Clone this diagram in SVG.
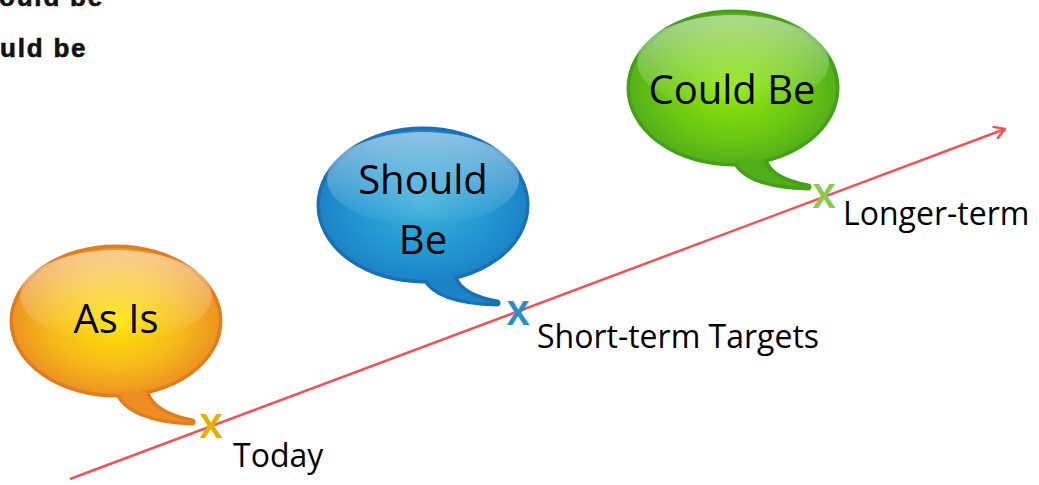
<svg xmlns="http://www.w3.org/2000/svg" width="1039" height="485" viewBox="0 0 1039 485">
<style>
.hdr{font-family:"Liberation Sans",Arial,sans-serif;font-weight:bold;font-size:26px;letter-spacing:1.8px;fill:#111;stroke:#111;stroke-width:0.6px}
.btxt{font-family:"Open Sans","Noto Sans",sans-serif;font-size:40px;fill:#000;text-anchor:middle}
.lbl{font-family:"Open Sans","Noto Sans",sans-serif;font-size:32px;fill:#000}
.mark{font-family:"Open Sans","Noto Sans",sans-serif;font-size:34px;font-weight:bold;text-anchor:middle}
.rim{stroke-width:7;stroke-linejoin:round}
</style>
<defs>
<radialGradient id="gOr" cx="0.5" cy="0.5" r="0.55">
<stop offset="0" stop-color="#ffe600"/><stop offset="0.6" stop-color="#f6b81a"/><stop offset="1" stop-color="#ea8a22"/>
</radialGradient>
<radialGradient id="gBl" cx="0.5" cy="0.5" r="0.55">
<stop offset="0" stop-color="#3ab0d8"/><stop offset="0.6" stop-color="#2296d2"/><stop offset="1" stop-color="#1a7ec4"/>
</radialGradient>
<radialGradient id="gGr" cx="0.5" cy="0.5" r="0.55">
<stop offset="0" stop-color="#8ee808"/><stop offset="0.6" stop-color="#6cc812"/><stop offset="1" stop-color="#4eaa1a"/>
</radialGradient>
<linearGradient id="gloss" x1="0" y1="0" x2="0" y2="1">
<stop offset="0" stop-color="#fff" stop-opacity="0.5"/><stop offset="1" stop-color="#fff" stop-opacity="0"/>
</linearGradient>
<marker id="arr" viewBox="0 0 14 14" refX="12" refY="7" markerWidth="14" markerHeight="14" markerUnits="userSpaceOnUse" orient="auto">
<path d="M2,1 L12,7 L2,13" fill="none" stroke="#f25252" stroke-width="2.5" stroke-linecap="round" stroke-linejoin="round"/>
</marker>
</defs>
<rect width="1039" height="485" fill="#fff"/>
<text class="hdr" x="-1" y="6">ould be</text>
<text class="hdr" x="0" y="57">uld be</text>

<g id="connectors">
<line x1="70" y1="479" x2="1005" y2="129" stroke="#f25252" stroke-width="2.5" marker-end="url(#arr)"/>
</g>

<g id="node-asis">
<g class="rim" stroke="#e27c1c" fill="#e27c1c">
<ellipse cx="116" cy="321" rx="103" ry="73"/>
<path d="M118,392 C126,410 152,421 192,422 C168,417 150,408 146,392 Z"/>
</g>
<ellipse cx="116" cy="321" rx="103" ry="73" fill="url(#gOr)"/>
<path d="M118,392 C126,410 152,421 192,422 C168,417 150,408 146,392 Z" fill="#ee8d20"/>
<ellipse cx="116" cy="296" rx="96" ry="46" fill="url(#gloss)"/>
<text class="btxt" x="116" y="333">As Is</text>
</g>

<g id="node-shouldbe">
<g class="rim" stroke="#1672b4" fill="#1672b4">
<ellipse cx="423" cy="205" rx="103" ry="75"/>
<path d="M425,277 C433,294 458,302 497,303 C475,299 458,291 454,277 Z"/>
</g>
<ellipse cx="423" cy="205" rx="103" ry="75" fill="url(#gBl)"/>
<path d="M425,277 C433,294 458,302 497,303 C475,299 458,291 454,277 Z" fill="#1c84c6"/>
<ellipse cx="423" cy="179" rx="96" ry="47" fill="url(#gloss)"/>
<text class="btxt" x="423" y="194">Should</text>
<text class="btxt" x="423" y="254">Be</text>
</g>

<g id="node-couldbe">
<g class="rim" stroke="#43a017" fill="#43a017">
<ellipse cx="733" cy="88" rx="103" ry="75"/>
<path d="M735,160 C743,177 768,186 808,187 C786,183 768,175 764,160 Z"/>
</g>
<ellipse cx="733" cy="88" rx="103" ry="75" fill="url(#gGr)"/>
<path d="M735,160 C743,177 768,186 808,187 C786,183 768,175 764,160 Z" fill="#52ad1a"/>
<ellipse cx="733" cy="62" rx="96" ry="47" fill="url(#gloss)"/>
<text class="btxt" x="732" y="104">Could Be</text>
</g>

<g id="mark-today">
<text class="mark" x="211" y="438" fill="#e6b000">X</text>
<text class="lbl" x="233" y="467">Today</text>
</g>
<g id="mark-short">
<text class="mark" x="518" y="325" fill="#2690c8">X</text>
<text class="lbl" x="537" y="348">Short-term Targets</text>
</g>
<g id="mark-longer">
<text class="mark" x="824" y="208" fill="#8cc84e">X</text>
<text class="lbl" x="843" y="225">Longer-term</text>
</g>
</svg>
